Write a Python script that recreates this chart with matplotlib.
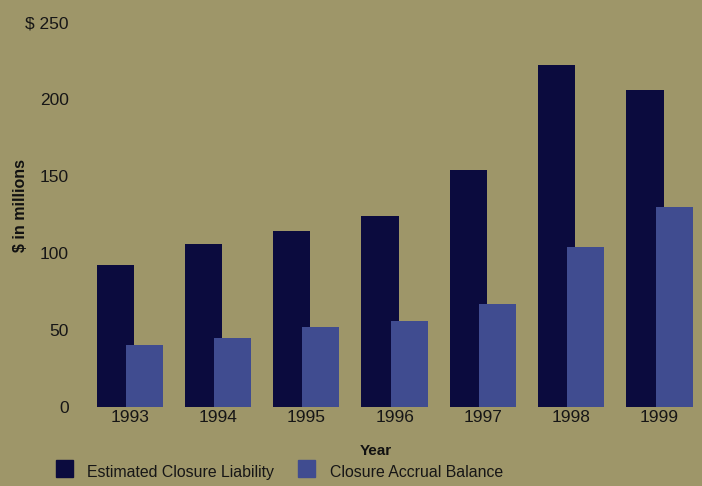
import matplotlib.pyplot as plt
import numpy as np

plt.rcParams['font.family'] = ['Liberation Sans', 'DejaVu Sans']

years = ['1993', '1994', '1995', '1996', '1997', '1998', '1999']
closure_liability = [92, 106, 114, 124, 154, 222, 206]
accrual_balance = [40, 45, 52, 56, 67, 104, 130]
y_ticks = [0, 50, 100, 150, 200, 250]
y_tick_labels = ['0', '50', '100', '150', '200', '$ 250']

bg = '#9e9669'
dark = '#0b0b3e'
light = '#404c90'

fig = plt.figure(figsize=(7.02, 4.86), dpi=100, facecolor=bg)
ax = fig.add_axes([80 / 702, 79 / 486, 622 / 702, 385 / 486], facecolor=bg)

x = np.arange(len(years))
ax.bar(x - 0.165, closure_liability, width=0.42, color=dark, zorder=2)
ax.bar(x + 0.165, accrual_balance, width=0.42, color=light, zorder=3)

ax.set_xlim(-0.562, 6.48)
ax.set_ylim(0, 250)
ax.set_xticks(x)
ax.set_xticklabels(years, fontsize=12.5, color='#161616')
ax.set_yticks(y_ticks)
ax.set_yticklabels(y_tick_labels, fontsize=12.5, color='#161616')
ax.tick_params(length=0, pad=2)
ax.tick_params(axis='y', pad=8)
for s in ax.spines.values():
    s.set_visible(False)

fig.text(21 / 702, 1 - 206 / 486, '$ in millions', rotation=90, fontsize=11.5,
         fontweight='bold', ha='center', va='center', color='#111111')
fig.text(376 / 702, 1 - 451 / 486, 'Year', fontsize=11, fontweight='bold',
         ha='center', va='center', color='#111111')

# legend
fig.patches.append(plt.Rectangle((56 / 702, 1 - 477 / 486), 17 / 702, 17 / 486,
                                 transform=fig.transFigure, color=dark, figure=fig))
fig.text(87 / 702, 1 - 472 / 486, 'Estimated Closure Liability', fontsize=11.4,
         ha='left', va='center', color='#161616')
fig.patches.append(plt.Rectangle((298 / 702, 1 - 477 / 486), 17 / 702, 17 / 486,
                                 transform=fig.transFigure, color=light, figure=fig))
fig.text(330 / 702, 1 - 472 / 486, 'Closure Accrual Balance', fontsize=11.4,
         ha='left', va='center', color='#161616')

fig.savefig('out.png', dpi=100, facecolor=bg)
